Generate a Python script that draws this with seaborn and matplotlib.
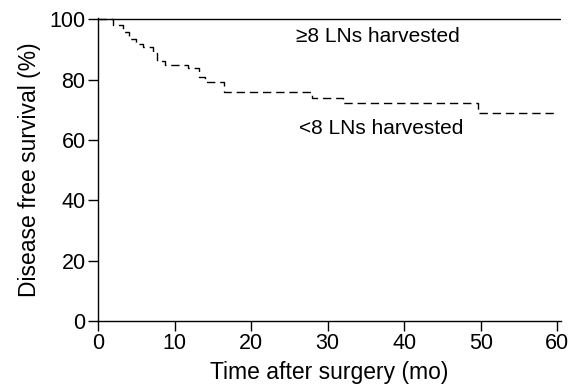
import pandas as pd
import seaborn as sns
import matplotlib
matplotlib.use("Agg")
import matplotlib.pyplot as plt

# Kaplan-Meier steps
months_lt8 = [0, 1.9, 3.3, 4.1, 5.0, 5.9, 7.2, 7.7, 8.8, 11.7, 13.2, 14.0, 16.5, 28.0, 32.0, 49.6, 60.0]
surv_lt8 = [100, 98.0, 95.8, 93.6, 92.0, 90.9, 88.7, 86.1, 85.0, 84.0, 80.8, 79.3, 75.8, 74.0, 72.4, 69.1, 69.1]
months_ge8 = [0, 60.4]
surv_ge8 = [100, 100]

x_ticks = [0, 10, 20, 30, 40, 50, 60]
y_ticks = [0, 20, 40, 60, 80, 100]

sns.set_theme(style="ticks", rc={"text.color": "black", "axes.labelcolor": "black",
                                 "xtick.color": "black", "ytick.color": "black"})
plt.rcParams['font.family'] = ['Liberation Sans', 'DejaVu Sans']

df_lt8 = pd.DataFrame({"month": months_lt8, "surv": surv_lt8})
df_ge8 = pd.DataFrame({"month": months_ge8, "surv": surv_ge8})

fig = plt.figure(figsize=(5.87, 3.89), dpi=100)
ax = fig.add_axes([0.167, 0.175, 0.789, 0.779])

sns.lineplot(data=df_ge8, x="month", y="surv", ax=ax, color="black",
             linewidth=1.0, drawstyle="steps-post")
sns.lineplot(data=df_lt8, x="month", y="surv", ax=ax, color="black",
             linewidth=1.0, drawstyle="steps-post", dashes=False)
ax.lines[-1].set_dashes([6, 3.5])

ax.text(25.9, 94.3, "\u22658 LNs harvested", fontsize=15, va="center", ha="left", color="black")
ax.text(26.2, 63.8, "<8 LNs harvested", fontsize=15, va="center", ha="left", color="black")

ax.set_xlim(0, 60.5)
ax.set_ylim(0, 100.5)
ax.set_xticks(x_ticks)
ax.set_yticks(y_ticks)
ax.tick_params(axis="both", labelsize=15.5, length=7, width=1, color="black",
               labelcolor="black", pad=2)
ax.set_xlabel("Time after surgery (mo)", fontsize=16.5, labelpad=5, color="black")
ax.set_ylabel("Disease free survival (%)", fontsize=16.5, labelpad=6, color="black")

for side in ["top", "right"]:
    ax.spines[side].set_visible(False)
for side in ["left", "bottom"]:
    ax.spines[side].set_color("black")
    ax.spines[side].set_linewidth(1.0)

fig.savefig("out.png", dpi=100)
